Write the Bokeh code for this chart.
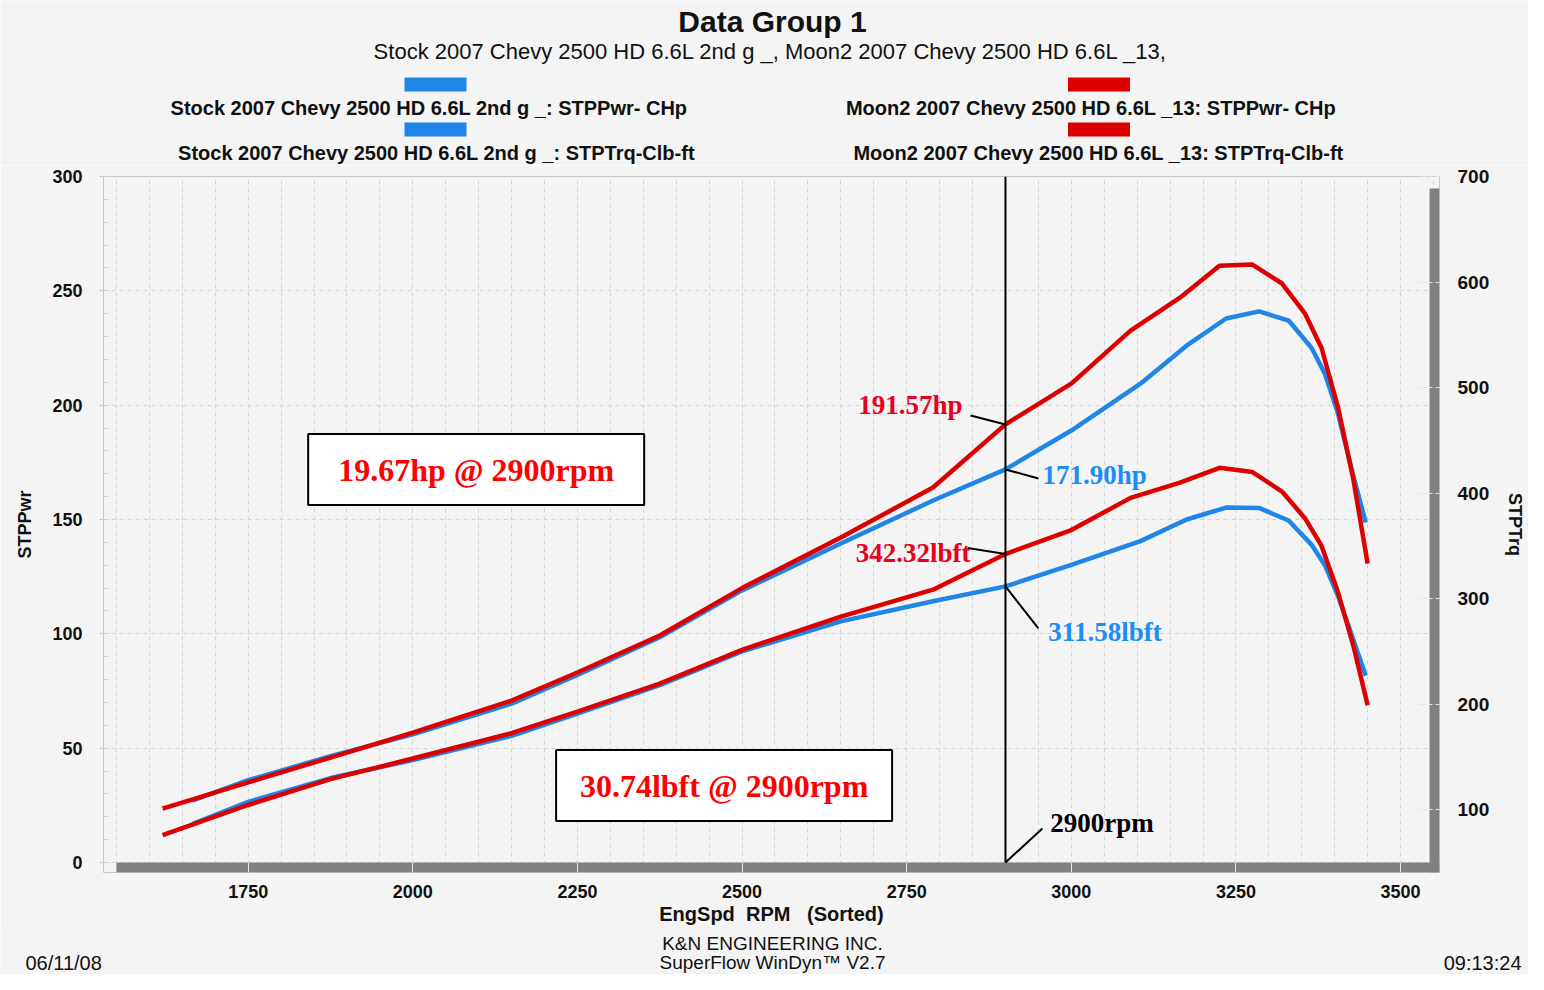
from bokeh.plotting import figure
from bokeh.layouts import column
from bokeh.models import Range1d, LinearAxis, SingleIntervalTicker, Label
from bokeh.core.properties import value
from bokeh.embed import file_html
from bokeh.resources import INLINE

# ---------------- data ----------------
rpm_stock = [1665, 1750, 1875, 2000, 2150, 2250, 2375, 2500, 2650, 2790, 2900, 3000,
             3105, 3175, 3235, 3285, 3330, 3365, 3385, 3405, 3425, 3447]
hp_stock = [27.1, 36.0, 46.5, 56.0, 69.5, 82.0, 98.5, 119.0, 139.5, 158.3, 171.9, 188.9,
            209.4, 226.0, 237.9, 241.0, 237.0, 225.0, 213.8, 196.3, 172.7, 148.7]
tq_stock = [86.5, 107.5, 130.0, 147.0, 170.0, 191.0, 218.0, 250.0, 278.5, 297.5, 311.6, 332.0,
            354.5, 375.0, 386.3, 386.0, 374.0, 351.0, 331.7, 302.5, 267.0, 227.0]

rpm_moon = [1620, 1750, 1875, 2000, 2150, 2250, 2375, 2500, 2650, 2790, 2900, 3000,
            3090, 3165, 3225, 3275, 3320, 3355, 3380, 3405, 3428, 3450]
hp_moon = [23.6, 35.0, 45.9, 56.8, 70.8, 83.1, 99.3, 120.0, 142.1, 164.0, 191.6, 209.4,
           232.6, 247.0, 261.0, 261.5, 253.2, 240.0, 225.0, 199.0, 168.0, 130.7]
tq_moon = [76.0, 104.5, 129.0, 148.5, 172.5, 193.0, 219.6, 251.5, 283.0, 308.5, 342.3, 365.0,
           395.5, 410.0, 424.0, 420.0, 401.5, 376.0, 350.0, 306.0, 256.0, 199.0]

cursor_rpm = 2900
cursor_hp_moon = 191.57
cursor_hp_stock = 171.90
cursor_tq_moon = 342.32
cursor_tq_stock = 311.58
diff_hp = 19.67
diff_tq = 30.74

legend_names = ["Stock 2007 Chevy 2500 HD 6.6L 2nd g _: STPPwr- CHp",
                "Stock 2007 Chevy 2500 HD 6.6L 2nd g _: STPTrq-Clb-ft",
                "Moon2 2007 Chevy 2500 HD 6.6L _13: STPPwr- CHp",
                "Moon2 2007 Chevy 2500 HD 6.6L _13: STPTrq-Clb-ft"]

# ---------------- styling / geometry ----------------
BLUE = "#1f86e8"
RED = "#dc0000"
BG = "#f4f4f4"
SANS = "Liberation Sans"
SERIF = "Liberation Serif"

W = 1528
HEAD_H = 165
FOOT_TOP, FOOT_BOT = 931, 974
FL, FR, FT, FB = 103, 1442, 176, 872          # frame edges in page pixels
X0, X1 = 1530.3, 3559.1
Y0, Y1 = -4.373, 300.0
T0, T1 = 40.525, 700.0
SX = (FR - FL) / (X1 - X0)
SY = (FB - FT) / (Y1 - Y0)
ST = (FB - FT) / (T1 - T0)


def dx(px):
    return X0 + (px - FL) / SX


def dy(py):
    return Y1 - (py - FT) / SY


def blank(y_top, y_bot):
    f = figure(frame_width=W, frame_height=y_bot - y_top, x_range=Range1d(0, W),
               y_range=Range1d(y_bot, y_top), x_axis_type=None, y_axis_type=None,
               output_backend="svg", toolbar_location=None, title=None, min_border=0)
    f.frame_align = False
    f.background_fill_color = BG
    f.border_fill_color = BG
    f.outline_line_color = None
    f.grid.visible = False
    return f


def ptext(f, text, x, y, size, style="normal", align="center", font=SANS, color="#111111"):
    f.text(x=[x], y=[y], text=[text], text_font=value(font), text_font_size=size,
           text_font_style=style, text_align=align, text_baseline="middle", text_color=color)


# ---------------- header: titles + legend ----------------
head = blank(0, HEAD_H)
ptext(head, "Data Group 1", 772, 21, "30px", "bold")
ptext(head, "Stock 2007 Chevy 2500 HD 6.6L 2nd g _, Moon2 2007 Chevy 2500 HD 6.6L _13,",
      770, 51, "22px")
for name, col, cx, cy, sw_top in ((legend_names[0], BLUE, 428.5, 107, 77),
                                  (legend_names[1], BLUE, 436, 152, 122),
                                  (legend_names[2], RED, 1090.5, 107, 77),
                                  (legend_names[3], RED, 1098, 152, 122)):
    sw = 435 if col == BLUE else 1098.5
    head.quad(left=[sw - 31], right=[sw + 31], top=[sw_top], bottom=[sw_top + 14],
              color=col, line_color=None)
    ptext(head, name, cx, cy, "20px", "bold")

# ---------------- main chart ----------------
p = figure(width=W, height=FOOT_TOP - HEAD_H, x_range=Range1d(X0, X1), y_range=Range1d(Y0, Y1),
           output_backend="svg", toolbar_location=None, title=None,
           min_border_left=FL, min_border_right=W - FR,
           min_border_top=FT - HEAD_H, min_border_bottom=FOOT_TOP - FB)
p.frame_align = False
p.extra_y_ranges = {"tq": Range1d(T0, T1)}
p.background_fill_color = BG
p.border_fill_color = BG
p.outline_line_color = "#c8c8c8"

p.xaxis.ticker = SingleIntervalTicker(interval=250, num_minor_ticks=0)
p.yaxis.ticker = SingleIntervalTicker(interval=50, num_minor_ticks=5)
for ax in (p.xaxis[0], p.yaxis[0]):
    ax.axis_line_color = None
    ax.major_label_text_font = SANS
    ax.major_label_text_font_style = "bold"
    ax.major_label_text_color = "#111111"
    ax.axis_label_text_font = SANS
    ax.axis_label_text_font_style = "bold"
    ax.axis_label_text_color = "#111111"

xa = p.xaxis[0]
xa.major_tick_in = 10
xa.major_tick_out = 0
xa.major_tick_line_color = "#e6e6e6"
xa.minor_tick_line_color = None
xa.major_label_text_font_size = "18px"
xa.major_label_standoff = 12
xa.axis_label = "EngSpd\u00a0\u00a0RPM\u00a0\u00a0\u00a0(Sorted)"
xa.axis_label_text_font_size = "20px"
xa.axis_label_standoff = 2

ya = p.yaxis[0]
ya.major_tick_in = 4
ya.major_tick_out = 4
ya.minor_tick_in = 5
ya.minor_tick_out = 0
ya.major_tick_line_color = "#c8c8c8"
ya.minor_tick_line_color = "#d0d0d0"
ya.major_label_text_font_size = "18px"
ya.major_label_standoff = 17
ya.axis_label = "STPPwr"
ya.axis_label_text_font_size = "18px"
ya.axis_label_standoff = 14

ra = LinearAxis(y_range_name="tq", ticker=SingleIntervalTicker(interval=100, num_minor_ticks=0))
ra.axis_line_color = None
ra.major_tick_in = 22
ra.major_tick_out = 0
ra.major_tick_line_color = "#e0e0e0"
ra.major_tick_line_dash = "4 3"
ra.minor_tick_line_color = None
ra.major_label_text_font = SANS
ra.major_label_text_font_style = "bold"
ra.major_label_text_font_size = "19px"
ra.major_label_text_color = "#111111"
ra.major_label_standoff = 18
ra.axis_label = "STPTrq"
ra.axis_label_text_font = SANS
ra.axis_label_text_font_style = "bold"
ra.axis_label_text_font_size = "18px"
ra.axis_label_text_color = "#111111"
ra.axis_label_standoff = 13
p.add_layout(ra, "right")

p.xgrid.ticker = SingleIntervalTicker(interval=50)
for g in (p.xgrid[0], p.ygrid[0]):
    g.grid_line_color = "#d2d2d2"
    g.grid_line_dash = "4 4"
    g.grid_line_width = 1

# 3D shadow of the plot area
p.quad(left=[dx(116)], right=[X1], bottom=[Y0], top=[0], color="#808080", line_color=None)
p.quad(left=[dx(1432)], right=[X1], bottom=[Y0], top=[dy(188)], color="#808080", line_color=None)

# curves
p.line(rpm_stock, hp_stock, color=BLUE, line_width=4.5)
p.line(rpm_stock, tq_stock, color=BLUE, line_width=4.5, y_range_name="tq")
p.line(rpm_moon, hp_moon, color=RED, line_width=4.5)
p.line(rpm_moon, tq_moon, color=RED, line_width=4.5, y_range_name="tq")

# cursor line
p.segment(x0=[cursor_rpm], y0=[0], x1=[cursor_rpm], y1=[Y1], color="black", line_width=2)


def leader(yval, ox, oy, rng="hp"):
    s = SY if rng == "hp" else ST
    kw = {} if rng == "hp" else {"y_range_name": "tq"}
    p.segment(x0=[cursor_rpm], y0=[yval], x1=[cursor_rpm + ox / SX], y1=[yval - oy / s],
              color="black", line_width=2, **kw)


def tag(text, yval, ox, oy, color, align, rng="hp", size="27px"):
    s = SY if rng == "hp" else ST
    kw = {} if rng == "hp" else {"y_range_name": "tq"}
    p.add_layout(Label(x=cursor_rpm + ox / SX, y=yval - oy / s, text=text, text_color=color,
                       text_font=SERIF, text_font_style="bold", text_font_size=size,
                       text_align=align, text_baseline="middle", **kw))


leader(cursor_hp_moon, -35, -9)
tag(f"{cursor_hp_moon:.2f}hp", cursor_hp_moon, -43, -19, "#e8001c", "right")
leader(cursor_hp_stock, 33, 9)
tag(f"{cursor_hp_stock:.2f}hp", cursor_hp_stock, 37, 6, "#1e8cf5", "left")
leader(cursor_tq_moon, -38, -6, "tq")
tag(f"{cursor_tq_moon:.2f}lbft", cursor_tq_moon, -35, -1, "#e8001c", "right", "tq")
leader(cursor_tq_stock, 33, 42, "tq")
tag(f"{cursor_tq_stock:.2f}lbft", cursor_tq_stock, 43, 46, "#1e8cf5", "left", "tq")
leader(0, 37, -34)
tag(f"{cursor_rpm}rpm", 0, 45, -40, "black", "left")

# difference boxes
for txt_, cx, cy in ((f"{diff_hp:.2f}hp @ {cursor_rpm}rpm", 476.5, 469),
                     (f"{diff_tq:.2f}lbft @ {cursor_rpm}rpm", 725, 785)):
    p.rect(x=[dx(cx)], y=[dy(cy)], width=[336], height=[71], width_units="screen",
           height_units="screen", fill_color="white", line_color="black", line_width=2)
    p.add_layout(Label(x=dx(cx), y=dy(cy), text=txt_, text_color="#ff0000", text_font=SERIF,
                       text_font_style="bold", text_font_size="32px", text_align="center",
                       text_baseline="middle"))

# ---------------- footer ----------------
foot = blank(FOOT_TOP, FOOT_BOT)
ptext(foot, "K&N ENGINEERING INC.", 772, 942.5, "19px")
ptext(foot, "SuperFlow WinDyn\u2122 V2.7", 772, 962, "19px")
ptext(foot, "06/11/08", 25, 962, "20px", align="left")
ptext(foot, "09:13:24", 1521, 962, "20px", align="right")

layout = column(head, p, foot, spacing=0)
open("out.html", "w").write(file_html(layout, INLINE))
